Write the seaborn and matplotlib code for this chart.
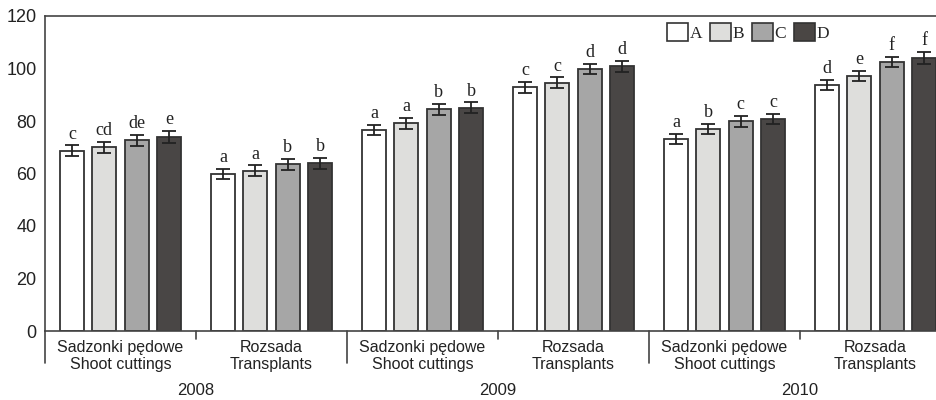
import numpy as np
import pandas as pd
import matplotlib
matplotlib.use("Agg")
import matplotlib.pyplot as plt
import matplotlib.transforms as mtransforms
from matplotlib.patches import Patch
import seaborn as sns

# data
groups = ["2008 S", "2008 R", "2009 S", "2009 R", "2010 S", "2010 R"]
group_labels = ["Sadzonki pędowe\nShoot cuttings", "Rozsada\nTransplants"] * 3
years = ["2008", "2009", "2010"]
treatments = ["A", "B", "C", "D"]
values_A = [68.7, 59.9, 76.6, 92.8, 73.1, 93.7]
values_B = [70.0, 61.1, 79.1, 94.6, 77.0, 97.1]
values_C = [72.6, 63.5, 84.4, 99.8, 79.9, 102.5]
values_D = [74.0, 63.9, 85.1, 100.8, 80.8, 104.1]
errors_A = [2.0, 2.0, 2.0, 2.0, 2.0, 2.0]
errors_B = [2.0, 2.0, 2.2, 2.0, 2.0, 2.0]
errors_C = [2.2, 2.0, 2.0, 2.0, 2.0, 2.0]
errors_D = [2.3, 2.0, 2.0, 2.0, 2.0, 2.2]
letters_A = ["c", "a", "a", "c", "a", "d"]
letters_B = ["cd", "a", "a", "c", "b", "e"]
letters_C = ["de", "b", "b", "d", "c", "f"]
letters_D = ["e", "b", "b", "d", "c", "f"]
colors = ["#ffffff", "#dededc", "#a6a6a6", "#4a4644"]

rows = []
for t, vals, errs, lets in zip(treatments,
                               [values_A, values_B, values_C, values_D],
                               [errors_A, errors_B, errors_C, errors_D],
                               [letters_A, letters_B, letters_C, letters_D]):
    for g, v, e, l in zip(groups, vals, errs, lets):
        rows.append((g, t, v, e, l))
df = pd.DataFrame(rows, columns=["group", "treatment", "value", "err", "letter"])

sns.set_style("ticks")
plt.rcParams["font.family"] = ["Liberation Sans", "DejaVu Sans"]
sans = ["Liberation Sans", "DejaVu Sans"]
serif = ["Liberation Serif", "DejaVu Serif"]
edge = "#333333"

fig = plt.figure(figsize=(9.36, 4.0), dpi=100)
ax = fig.add_axes([45 / 936, 69 / 400, 906 / 936, 315 / 400])
sns.barplot(data=df, x="group", y="value", hue="treatment", order=groups,
            hue_order=treatments, palette=colors, width=0.857, gap=0.26,
            errorbar=None, edgecolor=edge, linewidth=1.3, legend=False, ax=ax)

# error bars and significance letters on each bar
for container, t in zip(ax.containers, treatments):
    sub = df[df["treatment"] == t].set_index("group").loc[groups]
    for patch, v, e, l in zip(container.patches, sub["value"], sub["err"], sub["letter"]):
        xc = patch.get_x() + patch.get_width() / 2
        ax.errorbar(xc, v, yerr=e, color="#222222", capsize=5, elinewidth=1.3,
                    capthick=1.3, fmt="none", zorder=5)
        ax.annotate(l, (xc, v + e), xytext=(0, 2), textcoords="offset points",
                    ha="center", va="bottom", fontsize=13,
                    family=serif, color="#222222")

ax.set_xlim(-0.5, 5.5)
ax.set_ylim(0, 120)
ax.set_yticks(range(0, 121, 20))
ax.tick_params(axis="y", length=0, labelsize=13, pad=6, labelcolor="#222222")
ax.set_xticks([])
ax.set_xlabel("")
ax.set_ylabel("")
for s in ["left", "top", "bottom"]:
    ax.spines[s].set_color("#444444")
    ax.spines[s].set_linewidth(1.2)
ax.spines["right"].set_visible(False)

# group separators below the axis
trans = mtransforms.blended_transform_factory(ax.transData, ax.transAxes)
for xb in [-0.5, 0.5, 1.5, 2.5, 3.5, 4.5, 5.5]:
    long = xb in (-0.5, 1.5, 3.5, 5.5)
    ax.plot([xb, xb], [0, -0.1 if long else -0.025], transform=trans,
            color="#444444", lw=1.2, clip_on=False)

for i, lab in enumerate(group_labels):
    ax.text(i, -0.028, lab, transform=trans, ha="center", va="top",
            fontsize=11.5, family=sans, color="#222222", linespacing=1.15)
for k, y in enumerate(years):
    ax.text(2 * k + 0.5, -0.165, y, transform=trans, ha="center", va="top",
            fontsize=12, family=sans, color="#222222")

handles = [Patch(facecolor=c, edgecolor=edge, linewidth=1.2) for c in colors]
ax.legend(handles, treatments, ncol=4, frameon=False, loc="upper left",
          bbox_to_anchor=(610 / 906, 1.015), handlelength=1.2, handleheight=1.2,
          handletextpad=0.1, columnspacing=0.45, borderaxespad=0.3,
          prop={"family": serif, "size": 12.5})

fig.savefig("out.png", dpi=100)
